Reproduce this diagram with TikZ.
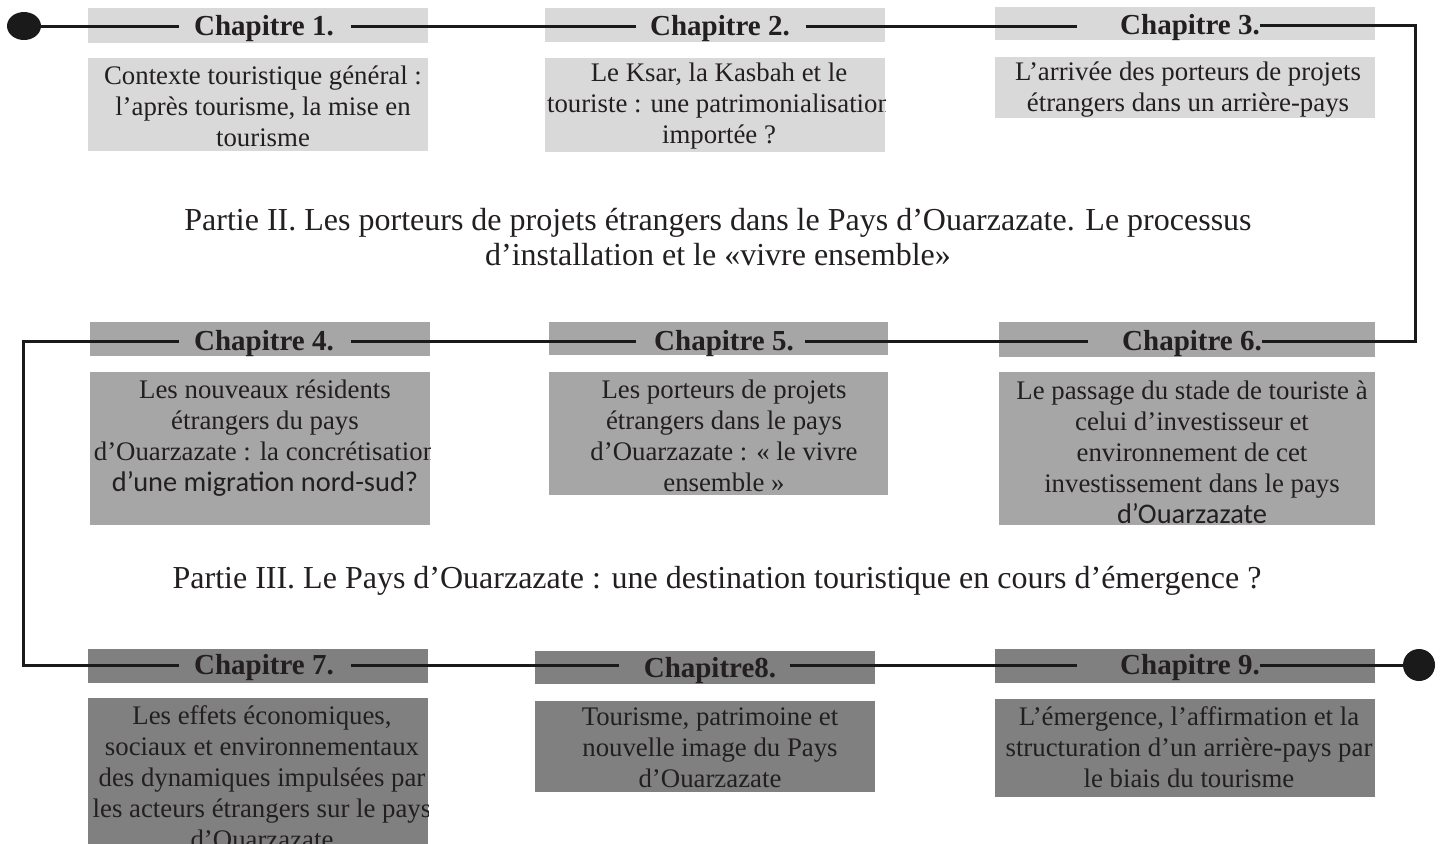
\documentclass[tikz,border=0pt]{standalone}
\usepackage{fontspec}
\setmainfont{Liberation Serif}
\newfontfamily\calib{Carlito}
\usetikzlibrary{shapes.geometric}
\definecolor{rowa}{HTML}{D9D9D9}
\definecolor{rowb}{HTML}{A6A6A6}
\definecolor{rowc}{HTML}{808080}
\definecolor{ink}{HTML}{231F20}
\definecolor{wire}{HTML}{1A1A1A}
\newcommand{\calibline}[1]{{\calib\fontsize{14.2}{15.5}\selectfont #1}}
\begin{document}
\begin{tikzpicture}[x=0.5pt,y=-0.5pt,
  conn/.style={draw=wire,line width=1.5pt},
  lbl/.style={font=\fontsize{14.5}{17}\selectfont\bfseries,text=ink,inner sep=0pt,text height=9.6pt,text depth=0pt},
  body/.style={font=\fontsize{13.4}{15.5}\selectfont,text=ink,align=center,inner sep=0pt},
  partie/.style={font=\fontsize{16}{17.5}\selectfont,text=ink,align=center,inner sep=0pt},
  dot/.style={ellipse,fill=wire,inner sep=0pt}]
\useasboundingbox (0,0) rectangle (1442,843);
% row 1 boxes
\fill[rowa] (88,8) rectangle (428,43);
\fill[rowa] (545,8) rectangle (885,42);
\fill[rowa] (995,7) rectangle (1375,40);
\fill[rowa] (88,58) rectangle (428,151);
\fill[rowa] (545,58) rectangle (885,152);
\fill[rowa] (995,57) rectangle (1375,118);
% row 2 boxes
\fill[rowb] (90,322) rectangle (430,356);
\fill[rowb] (549,322) rectangle (888,355);
\fill[rowb] (999,322) rectangle (1375,357);
\fill[rowb] (90,372) rectangle (430,525);
\fill[rowb] (549,372) rectangle (888,495);
\fill[rowb] (999,372) rectangle (1375,525);
% row 3 boxes
\fill[rowc] (88,649) rectangle (428,683);
\fill[rowc] (535,651) rectangle (875,684);
\fill[rowc] (995,649) rectangle (1375,683);
\fill[rowc] (88,698) rectangle (428,850);
\fill[rowc] (535,701) rectangle (875,792);
\fill[rowc] (995,699) rectangle (1375,797);

% labels
\node[lbl] (l1) at (264,26) {Chapitre 1.};
\node[lbl] (l2) at (720,26) {Chapitre 2.};
\node[lbl] (l3) at (1190,25) {Chapitre 3.};
\node[lbl] (l4) at (264,341) {Chapitre 4.};
\node[lbl] (l5) at (724,341) {Chapitre 5.};
\node[lbl] (l6) at (1192,341) {Chapitre 6.};
\node[lbl] (l7) at (264,665) {Chapitre 7.};
\node[lbl] (l8) at (710,668) {Chapitre8.};
\node[lbl] (l9) at (1190,665) {Chapitre 9.};

% dots and corners
\node[dot,minimum width=17pt,minimum height=14pt] (d1) at (24,26) {};
\node[dot,minimum width=16pt,minimum height=16pt] (d2) at (1419,665) {};
\coordinate (c1) at (1415,25);
\coordinate (c2) at (1415,341);
\coordinate (c3) at (23,341);
\coordinate (c4) at (23,665);

% connectors
\draw[conn,shorten >=7.5pt] (d1) -- (l1);
\draw[conn,shorten <=8.5pt,shorten >=7pt] (l1) -- (l2);
\draw[conn,shorten <=8pt,shorten >=21.5pt] (l2.east) -- (l3.west |- l2);
\draw[conn] (l3) -- (c1) -- (c2) -- (l6);
\draw[conn,shorten <=17pt,shorten >=5.5pt] (l6) -- (l5);
\draw[conn,shorten <=9pt,shorten >=8.5pt] (l5) -- (l4);
\draw[conn,shorten <=7.5pt,shorten >=7.5pt] (l4) -- (c3) -- (c4) -- (l7);
\draw[conn,shorten <=8.5pt,shorten >=12pt] (l7) -- (l8.west |- l7);
\draw[conn,shorten <=6.5pt,shorten >=21.5pt] (l8.east |- l9) -- (l9);
\draw[conn] (l9) -- (d2);

% body texts
\node[body] (t1) at (263,106) {Contexte touristique général :\\l’après tourisme, la mise en\\tourisme};
\begin{scope}
\clip (545,58) rectangle (885,152);
\node[body] (t2) at (719,106) {Le Ksar, la Kasbah et le\\touriste : une patrimonialisation\\importée ?};
\end{scope}
\node[body] (t3) at (1188,90) {L’arrivée des porteurs de projets\\étrangers dans un arrière-pays};
\begin{scope}
\clip (90,372) rectangle (430,525);
\node[body] (t4) at (265,438) {Les nouveaux résidents\\étrangers du pays\\d’Ouarzazate : la concrétisation\\\calibline{d’une migration nord-sud?}};
\end{scope}
\node[body] (t5) at (724,436) {Les porteurs de projets\\étrangers dans le pays\\d’Ouarzazate : « le vivre\\ensemble »};
\node[body] (t6) at (1192,452) {Le passage du stade de touriste à\\celui d’investisseur et\\environnement de cet\\investissement dans le pays\\\calibline{d’Ouarzazate}};
\begin{scope}
\clip (88,698) rectangle (428,850);
\node[body] (t7) at (262,777) {Les effets économiques,\\sociaux et environnementaux\\des dynamiques impulsées par\\les acteurs étrangers sur le pays\\d’Ouarzazate};
\end{scope}
\node[body] (t8) at (710,748) {Tourisme, patrimoine et\\nouvelle image du Pays\\d’Ouarzazate};
\node[body] (t9) at (1189,747) {L’émergence, l’affirmation et la\\structuration d’un arrière-pays par\\le biais du tourisme};

% parts
\node[partie] (p2) at (718,237) {Partie II. Les porteurs de projets étrangers dans le Pays d’Ouarzazate. Le processus\\d’installation et le «vivre ensemble»};
\node[partie] (p3) at (717,581) {Partie III. Le Pays d’Ouarzazate : une destination touristique en cours d’émergence ?};
\end{tikzpicture}
\end{document}
